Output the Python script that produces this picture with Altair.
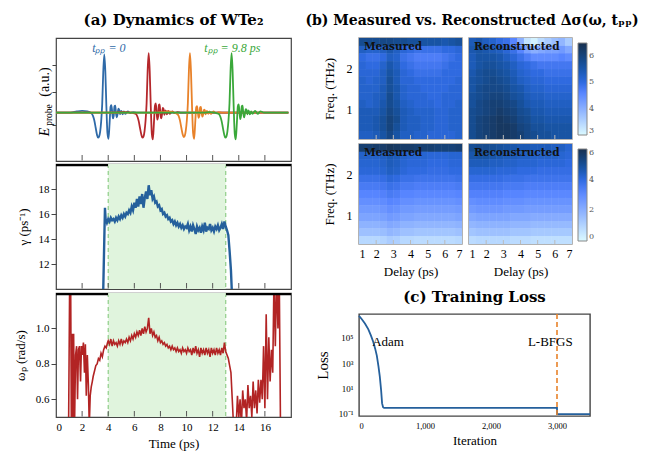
import altair as alt
import pandas as pd

SERIF = "Liberation Serif"
BOLD = "DejaVu Serif"

# ---------------- panel (a) data ----------------
pulse_names = ["blue", "red", "orange", "green"]
pulse_colors = ["#2f6aa8", "#b5272b", "#e8822a", "#3aa83a"]
peak_times = [3.70, 7.10, 10.26, 13.45]
t_rel = [-2.6, -2.1, -1.7, -1.3, -1.0, -0.86, -0.76, -0.66, -0.56, -0.48, -0.4, -0.32,
         -0.24, -0.16, -0.08, 0.0, 0.08, 0.16, 0.24, 0.32, 0.4, 0.48, 0.54, 0.6, 0.66,
         0.72, 0.78, 0.84, 0.9, 0.96, 1.02, 1.08, 1.14, 1.2, 1.3, 1.4, 1.5, 1.6, 1.8,
         2.0, 2.2, 2.5]
E_blue = [0.0, 0.02, 0.03, 0.02, -0.01, -0.06, -0.14, -0.26, -0.38, -0.43, -0.41, -0.33,
          -0.15, 0.15, 0.7, 1.0, 0.7, 0.1, -0.35, -0.45, -0.2, 0.1, 0.13, 0.02, -0.1,
          -0.06, 0.11, 0.12, -0.02, -0.08, -0.02, 0.07, 0.05, -0.03, 0.03, -0.03, 0.02,
          -0.02, 0.02, -0.01, 0.01, 0.0]
E_red = [0.0, 0.01, 0.01, 0.0, -0.02, -0.07, -0.15, -0.27, -0.38, -0.43, -0.41, -0.32,
         -0.14, 0.16, 0.72, 1.02, 0.7, 0.1, -0.36, -0.46, -0.18, 0.12, 0.16, 0.03, -0.12,
         -0.07, 0.13, 0.14, -0.03, -0.1, -0.03, 0.08, 0.06, -0.04, 0.04, -0.03, 0.03,
         -0.02, 0.02, -0.01, 0.01, 0.0]
E_orange = [0.0, 0.01, 0.02, 0.01, -0.02, -0.06, -0.14, -0.26, -0.37, -0.42, -0.40, -0.31,
            -0.14, 0.16, 0.72, 1.02, 0.7, 0.1, -0.35, -0.45, -0.19, 0.09, 0.11, 0.02, -0.09,
            -0.05, 0.09, 0.1, -0.02, -0.07, -0.02, 0.05, 0.04, -0.03, 0.03, -0.02, 0.02,
            -0.02, 0.02, -0.01, 0.01, 0.0]
E_green = [0.0, 0.0, 0.01, 0.0, -0.02, -0.07, -0.15, -0.27, -0.38, -0.43, -0.41, -0.32,
           -0.14, 0.16, 0.72, 1.02, 0.7, 0.1, -0.36, -0.46, -0.19, 0.11, 0.14, 0.02, -0.11,
           -0.06, 0.11, 0.12, -0.02, -0.08, -0.02, 0.06, 0.05, -0.03, 0.04, -0.03, 0.02,
           -0.02, 0.03, -0.02, 0.02, 0.0]
pulse_E = [E_blue, E_red, E_orange, E_green]
t_start, t_end = 0.0, 17.8

ann_t = [4.05, 13.5]
ann_E = [1.11, 1.11]
ann_text = ["tₚₚ = 0", "tₚₚ = 9.8 ps"]
ann_color = ["#2f6aa8", "#3aa83a"]

time_ticks = [2, 4, 6, 8, 10, 12, 14, 16]
time_labels = [0, 2, 4, 6, 8, 10, 12, 14, 16]
shade_start, shade_end = 4.0, 13.0

gamma_t = [3.60, 3.70, 3.75, 3.80, 3.90,
           4.0, 4.1, 4.2, 4.3, 4.4, 4.5, 4.6, 4.7, 4.8, 4.9, 5.0, 5.1, 5.2, 5.3, 5.4, 5.5,
           5.6, 5.7, 5.8, 5.9, 6.0, 6.1, 6.2, 6.3, 6.4, 6.5, 6.6, 6.7, 6.8, 6.9, 7.0, 7.1,
           7.2, 7.3, 7.4, 7.5, 7.6, 7.7, 7.8, 7.9, 8.0, 8.1, 8.2, 8.3, 8.4, 8.5, 8.6, 8.7,
           8.8, 8.9, 9.0, 9.1, 9.2, 9.3, 9.4, 9.5, 9.6, 9.7, 9.8, 9.9, 10.0, 10.1, 10.2,
           10.3, 10.4, 10.5, 10.6, 10.7, 10.8, 10.9, 11.0, 11.1, 11.2, 11.3, 11.4, 11.5,
           11.6, 11.7, 11.8, 11.9, 12.0, 12.1, 12.2, 12.3, 12.4, 12.5, 12.6, 12.7, 12.8,
           12.9, 13.0, 13.1, 13.2, 13.3, 13.4, 13.5]
gamma_v = [9.0, 14.0, 16.5, 15.6, 15.3,
           15.6, 15.4, 15.7, 15.5, 15.6, 15.4, 15.7, 15.5, 15.8, 15.6, 15.9, 15.7, 16.0,
           15.8, 16.1, 16.0, 16.3, 16.1, 16.6, 16.3, 16.9, 16.5, 17.2, 16.6, 17.4, 16.8,
           17.6, 16.5, 17.3, 17.8, 17.2, 18.3, 17.5, 17.9, 17.2, 17.4, 16.9, 17.0, 16.6,
           16.7, 16.3, 16.4, 16.0, 16.1, 15.8, 15.9, 15.6, 15.7, 15.4, 15.5, 15.2, 15.4,
           15.1, 15.3, 15.0, 15.2, 14.9, 15.1, 14.8, 15.0, 14.9, 15.2, 14.7, 15.0, 14.6,
           15.1, 14.8, 14.4, 15.0, 14.7, 14.9, 14.5, 15.0, 14.7, 15.3, 14.6, 14.9, 14.8,
           15.2, 14.7, 14.9, 14.6, 15.0, 14.8, 15.1, 14.7, 14.9, 15.2, 14.8, 15.4, 15.0,
           14.7, 14.3, 13.0, 11.5, 9.0]

omega_t = [0.95, 1.05, 1.12, 1.18, 1.25, 1.3, 1.35, 1.42, 1.5, 1.58, 1.65, 1.72, 1.8,
           1.88, 1.95, 2.02, 2.1, 2.18, 2.25, 2.32, 2.4, 2.48, 2.55, 2.62, 2.7, 2.78, 2.85,
           2.95, 3.05, 3.15, 3.25, 3.35, 3.45, 3.55, 3.65, 3.75, 3.85, 3.95,
           4.0, 4.1, 4.2, 4.3, 4.4, 4.5, 4.6, 4.7, 4.8, 4.9, 5.0, 5.1, 5.2, 5.3, 5.4, 5.5,
           5.6, 5.7, 5.8, 5.9, 6.0, 6.1, 6.2, 6.3, 6.4, 6.5, 6.6, 6.7, 6.8, 6.9, 7.0, 7.1,
           7.2, 7.3, 7.4, 7.5, 7.6, 7.7, 7.8, 7.9, 8.0, 8.1, 8.2, 8.3, 8.4, 8.5, 8.6, 8.7,
           8.8, 8.9, 9.0, 9.1, 9.2, 9.3, 9.4, 9.5, 9.6, 9.7, 9.8, 9.9, 10.0, 10.1, 10.2,
           10.3, 10.4, 10.5, 10.6, 10.7, 10.8, 10.9, 11.0, 11.1, 11.2, 11.3, 11.4, 11.5,
           11.6, 11.7, 11.8, 11.9, 12.0, 12.1, 12.2, 12.3, 12.4, 12.5, 12.6, 12.7, 12.8,
           12.9, 13.0, 13.1, 13.2, 13.3, 13.4, 13.5, 13.6,
           13.8, 13.9, 14.0, 14.1, 14.2, 14.3, 14.4, 14.5, 14.6, 14.7, 14.8, 14.9, 15.0,
           15.1, 15.2, 15.3, 15.4, 15.5, 15.6, 15.7, 15.8, 15.9, 16.0, 16.1, 16.2, 16.3,
           16.4, 16.5, 16.6, 16.7, 16.8, 16.9, 17.0, 17.1, 17.2, 17.3]
omega_v = [0.3, 1.3, 1.3, 0.4, 0.97, 0.5, 0.97, 0.45, 0.85, 0.9, 0.6, 0.88, 0.9, 0.7,
           0.9, 0.85, 0.92, 0.75, 0.91, 0.62, 0.85, 0.68, 0.45, 0.62, 0.67, 0.70, 0.73,
           0.76, 0.79, 0.80, 0.83, 0.82, 0.86, 0.84, 0.88, 0.90, 0.89, 0.92,
           0.93, 0.91, 0.94, 0.90, 0.93, 0.91, 0.92, 0.90, 0.93, 0.91, 0.94, 0.91, 0.93,
           0.92, 0.94, 0.92, 0.95, 0.93, 0.96, 0.94, 0.97, 0.95, 0.98, 0.96, 0.99, 0.96,
           1.00, 0.97, 1.01, 0.98, 1.00, 1.06, 0.97, 1.00, 0.96, 0.98, 0.95, 0.96, 0.93,
           0.95, 0.92, 0.93, 0.91, 0.92, 0.90, 0.91, 0.89, 0.90, 0.88, 0.90, 0.88, 0.89,
           0.87, 0.89, 0.87, 0.88, 0.86, 0.89, 0.87, 0.88, 0.86, 0.89, 0.87, 0.88, 0.85,
           0.89, 0.86, 0.90, 0.86, 0.88, 0.84, 0.89, 0.86, 0.88, 0.85, 0.89, 0.86, 0.88,
           0.84, 0.89, 0.86, 0.88, 0.85, 0.89, 0.86, 0.88, 0.85, 0.89, 0.86, 0.92, 0.87,
           0.85, 0.83, 0.79, 0.75, 0.60, 0.45,
           0.45, 0.62, 0.5, 0.6, 0.45, 0.65, 0.55, 0.6, 0.48, 0.68, 0.55, 0.62, 0.5, 0.7,
           0.55, 0.65, 0.52, 0.71, 0.58, 0.71, 0.6, 0.9, 0.55, 1.08, 0.6, 0.95, 0.7, 0.88,
           0.75, 1.3, 0.9, 1.3, 1.0, 1.3, 0.4, 0.3]

# ---------------- panel (b) data ----------------
delay_edges = [1.0, 1.4, 1.8, 2.2, 2.6, 3.0, 3.4, 3.8, 4.2, 4.6, 5.0, 5.4, 5.8, 6.2, 6.6, 7.0]
freq_edges = [2.73, 2.54, 2.36, 2.17, 1.98, 1.80, 1.61, 1.42, 1.24, 1.05, 0.86, 0.68, 0.49, 0.30]

meas_top = [
    [5.8, 5.8, 5.8, 5.9, 5.9, 5.8, 5.8, 5.7, 5.7, 5.6, 5.6, 5.6, 5.5, 5.6, 5.7],
    [5.3, 5.2, 5.2, 5.3, 5.5, 5.3, 5.1, 5.0, 4.9, 4.9, 4.9, 4.9, 5.0, 5.0, 5.1],
    [5.0, 4.9, 4.9, 5.0, 5.3, 5.2, 4.9, 4.8, 4.7, 4.7, 4.7, 4.7, 4.8, 4.9, 5.0],
    [5.1, 5.0, 5.0, 5.2, 5.5, 5.3, 5.0, 4.9, 4.8, 4.8, 4.8, 4.8, 4.9, 5.0, 5.0],
    [5.1, 5.1, 5.1, 5.3, 5.6, 5.4, 5.1, 5.0, 4.9, 4.9, 4.9, 4.9, 5.0, 5.0, 5.0],
    [5.2, 5.1, 5.2, 5.3, 5.7, 5.4, 5.1, 5.1, 5.0, 5.0, 5.0, 5.0, 5.0, 5.0, 5.1],
    [5.2, 5.2, 5.2, 5.4, 5.7, 5.5, 5.2, 5.1, 5.1, 5.0, 5.0, 5.0, 5.0, 5.1, 5.1],
    [5.2, 5.2, 5.3, 5.4, 5.8, 5.5, 5.2, 5.1, 5.1, 5.1, 5.0, 5.0, 5.1, 5.1, 5.1],
    [5.3, 5.2, 5.3, 5.5, 5.8, 5.6, 5.3, 5.2, 5.1, 5.1, 5.1, 5.0, 5.1, 5.1, 5.2],
    [5.4, 5.4, 5.4, 5.6, 5.9, 5.7, 5.4, 5.3, 5.2, 5.2, 5.2, 5.1, 5.1, 5.2, 5.2],
    [5.4, 5.4, 5.5, 5.7, 6.0, 5.8, 5.4, 5.3, 5.3, 5.2, 5.2, 5.1, 5.1, 5.2, 5.2],
    [5.4, 5.4, 5.5, 5.7, 6.0, 5.7, 5.4, 5.3, 5.3, 5.2, 5.2, 5.1, 5.1, 5.2, 5.2],
    [5.3, 5.3, 5.4, 5.6, 5.9, 5.6, 5.3, 5.3, 5.2, 5.2, 5.1, 5.1, 5.1, 5.1, 5.2],
]
recon_top = [
    [5.4, 5.5, 5.3, 5.2, 5.0, 4.9, 4.6, 4.0, 3.3, 3.1, 3.4, 3.6, 3.8, 3.9, 3.6],
    [5.5, 5.6, 5.5, 5.4, 5.3, 5.1, 4.9, 4.6, 4.2, 4.0, 4.1, 4.2, 4.2, 4.3, 4.1],
    [5.4, 5.6, 5.6, 5.6, 5.5, 5.3, 5.1, 4.9, 4.7, 4.5, 4.5, 4.5, 4.5, 4.6, 4.5],
    [5.4, 5.6, 5.7, 5.7, 5.6, 5.5, 5.3, 5.1, 5.0, 4.9, 4.8, 4.8, 4.8, 4.8, 4.8],
    [5.5, 5.7, 5.8, 5.8, 5.7, 5.6, 5.4, 5.2, 5.1, 5.0, 5.0, 4.9, 4.9, 4.9, 4.9],
    [5.6, 5.7, 5.8, 5.9, 5.8, 5.7, 5.5, 5.3, 5.2, 5.1, 5.1, 5.0, 5.0, 5.0, 5.0],
    [5.6, 5.8, 5.9, 5.9, 5.9, 5.8, 5.6, 5.5, 5.3, 5.2, 5.2, 5.1, 5.1, 5.1, 5.1],
    [5.7, 5.8, 5.9, 6.0, 6.0, 5.9, 5.7, 5.6, 5.4, 5.3, 5.3, 5.2, 5.2, 5.2, 5.2],
    [5.7, 5.9, 6.0, 6.1, 6.1, 6.0, 5.9, 5.7, 5.5, 5.4, 5.4, 5.3, 5.3, 5.3, 5.3],
    [5.8, 5.9, 6.0, 6.1, 6.2, 6.1, 6.0, 5.8, 5.7, 5.5, 5.5, 5.4, 5.4, 5.4, 5.4],
    [5.8, 6.0, 6.1, 6.2, 6.3, 6.2, 6.1, 5.9, 5.8, 5.6, 5.6, 5.5, 5.5, 5.5, 5.5],
    [5.8, 6.0, 6.1, 6.2, 6.3, 6.3, 6.2, 6.0, 5.9, 5.7, 5.7, 5.6, 5.6, 5.6, 5.6],
    [5.8, 6.0, 6.1, 6.2, 6.3, 6.3, 6.2, 6.1, 5.9, 5.8, 5.7, 5.7, 5.6, 5.6, 5.6],
]
meas_bot = [
    [5.5, 5.5, 5.6, 5.6, 5.8, 5.7, 5.6, 5.6, 5.5, 5.5, 5.5, 5.4, 5.4, 5.4, 5.5],
    [4.3, 4.3, 4.3, 4.4, 4.6, 4.5, 4.3, 4.2, 4.2, 4.2, 4.1, 4.1, 4.1, 4.2, 4.2],
    [4.2, 4.2, 4.2, 4.3, 4.5, 4.4, 4.2, 4.1, 4.1, 4.1, 4.0, 4.0, 4.0, 4.1, 4.1],
    [4.1, 4.1, 4.1, 4.2, 4.4, 4.3, 4.1, 4.0, 4.0, 4.0, 3.9, 3.9, 3.9, 4.0, 4.0],
    [3.8, 3.8, 3.8, 3.9, 4.1, 4.0, 3.8, 3.8, 3.7, 3.7, 3.7, 3.7, 3.7, 3.7, 3.8],
    [3.5, 3.5, 3.5, 3.6, 3.8, 3.7, 3.5, 3.5, 3.4, 3.4, 3.4, 3.4, 3.4, 3.4, 3.5],
    [3.2, 3.2, 3.2, 3.3, 3.5, 3.4, 3.2, 3.2, 3.1, 3.1, 3.1, 3.1, 3.1, 3.1, 3.2],
    [2.9, 2.9, 2.9, 3.0, 3.2, 3.1, 2.9, 2.9, 2.8, 2.8, 2.8, 2.8, 2.8, 2.8, 2.9],
    [2.6, 2.6, 2.6, 2.7, 2.9, 2.8, 2.6, 2.6, 2.5, 2.5, 2.5, 2.5, 2.5, 2.5, 2.6],
    [2.3, 2.3, 2.3, 2.4, 2.6, 2.5, 2.3, 2.3, 2.2, 2.2, 2.2, 2.2, 2.2, 2.2, 2.3],
    [1.9, 1.9, 1.9, 2.0, 2.2, 2.1, 1.9, 1.9, 1.8, 1.8, 1.8, 1.8, 1.8, 1.8, 1.9],
    [1.5, 1.5, 1.5, 1.6, 1.8, 1.7, 1.5, 1.5, 1.4, 1.4, 1.4, 1.4, 1.4, 1.4, 1.5],
    [0.9, 0.9, 0.9, 1.0, 1.2, 1.1, 0.9, 0.9, 0.8, 0.8, 0.8, 0.8, 0.8, 0.8, 0.9],
]
recon_bot = [
    [5.0, 5.1, 5.1, 5.0, 4.9, 4.8, 4.7, 4.6, 4.6, 4.5, 4.5, 4.5, 4.4, 4.4, 4.2],
    [4.7, 4.8, 4.8, 4.7, 4.6, 4.5, 4.5, 4.4, 4.4, 4.3, 4.3, 4.3, 4.3, 4.2, 4.1],
    [4.5, 4.5, 4.5, 4.4, 4.4, 4.3, 4.3, 4.2, 4.2, 4.2, 4.1, 4.1, 4.1, 4.1, 4.0],
    [4.2, 4.2, 4.2, 4.2, 4.1, 4.1, 4.1, 4.0, 4.0, 4.0, 3.9, 3.9, 3.9, 3.9, 3.9],
    [3.9, 3.9, 3.9, 3.9, 3.9, 3.8, 3.8, 3.8, 3.7, 3.7, 3.7, 3.7, 3.7, 3.7, 3.7],
    [3.6, 3.6, 3.6, 3.6, 3.6, 3.5, 3.5, 3.5, 3.4, 3.4, 3.4, 3.4, 3.4, 3.4, 3.4],
    [3.3, 3.3, 3.3, 3.3, 3.3, 3.2, 3.2, 3.2, 3.1, 3.1, 3.1, 3.1, 3.1, 3.1, 3.1],
    [2.9, 3.0, 3.0, 3.0, 3.0, 2.9, 2.9, 2.9, 2.8, 2.8, 2.8, 2.8, 2.8, 2.8, 2.8],
    [2.6, 2.7, 2.7, 2.7, 2.7, 2.6, 2.6, 2.6, 2.5, 2.5, 2.5, 2.5, 2.5, 2.5, 2.5],
    [2.2, 2.3, 2.3, 2.3, 2.3, 2.3, 2.2, 2.2, 2.2, 2.1, 2.1, 2.1, 2.1, 2.1, 2.1],
    [1.8, 1.9, 1.9, 1.9, 1.9, 1.9, 1.8, 1.8, 1.8, 1.7, 1.7, 1.7, 1.7, 1.7, 1.7],
    [1.4, 1.5, 1.5, 1.5, 1.5, 1.5, 1.4, 1.4, 1.4, 1.3, 1.3, 1.3, 1.3, 1.3, 1.3],
    [0.8, 0.9, 0.9, 0.9, 0.9, 0.9, 0.8, 0.8, 0.8, 0.7, 0.7, 0.7, 0.7, 0.7, 0.7],
]
delay_ticks = [2, 3, 4, 5, 6]

# ---------------- panel (c) data ----------------
loss_iter = [0, 40, 90, 140, 180, 215, 245, 270, 295, 315, 335, 350, 365, 380, 3000, 3002, 3500]
loss_val = [5.6e6, 3.16e6, 1.41e6, 5.0e5, 1.58e5, 5.0e4, 1.41e4, 3980, 562, 89, 7.1, 0.63,
            0.316, 0.275, 0.275, 0.089, 0.089]
lbfgs_at = 3000
loss_ann_x = [200, 2898]
loss_ann_y = [4.5e4, 4.5e4]
loss_ann_text = ["Adam", "L-BFGS"]

# ---------------- styling ----------------
W_A = 235
H_TOP, H_MID, H_BOT = 123, 125, 124
FRAME = alt.ViewBackground(stroke="#444", strokeWidth=1.2)
GREEN_FILL = "#e0f4dd"
GREEN_DASH = "#8fce88"

xs = alt.Scale(domain=[0, 18], nice=False, zero=False)
time_axis = alt.Axis(values=time_labels, title="Time (ps)", ticks=False, domain=False,
                     labelFontSize=11, titleFontSize=13, labelPadding=4, titlePadding=5)

# ---- top panel ----
layers = []
for name, col, tp, E in zip(pulse_names, pulse_colors, peak_times, pulse_E):
    tt = [t_start] + [tp + r for r in t_rel] + [t_end]
    ee = [0.0] + E + [0.0]
    df = pd.DataFrame({"t": tt, "E": ee, "k": list(range(len(tt)))})
    layers.append(
        alt.Chart(df).mark_line(color=col, strokeWidth=1.8, interpolate="monotone", clip=True).encode(
            x=alt.X("t:Q", scale=xs, axis=None),
            y=alt.Y("E:Q", scale=alt.Scale(domain=[-0.83, 1.28], nice=False, zero=False),
                    axis=alt.Axis(title=None, values=[-0.22, 0.36, 0.81], labels=False,
                                  tickSize=4, domain=False)),
            order="k:Q",
        )
    )
ann_df = pd.DataFrame({"t": ann_t, "E": ann_E, "label": ann_text, "c": ann_color})
layers.append(
    alt.Chart(ann_df).mark_text(font=SERIF, fontSize=12, fontStyle="italic").encode(
        x=alt.X("t:Q", scale=xs, axis=None), y="E:Q", text="label:N",
        color=alt.Color("c:N", scale=None)))
# rotated y-axis title "E_probe (a.u.)" built from pieces (big E, small subscript)
ytitle_parts = [("E", 14, "italic", -11, 94), ("probe", 9.5, "normal", -7, 77), ("(a.u.)", 14, "normal", -11, 44)]
for txt, fs, sty, dx, dy in ytitle_parts:
    layers.append(alt.Chart(pd.DataFrame({"l": [txt]})).mark_text(
        font=SERIF, fontSize=fs, fontStyle=sty, angle=270, align="center", baseline="middle",
        color="black").encode(text="l:N", x=alt.value(dx), y=alt.value(dy)))
tick_df = pd.DataFrame({"t": time_ticks})


def inward_ticks(H, axis):
    return alt.Chart(tick_df).mark_rule(color="#555", strokeWidth=1).encode(
        x=alt.X("t:Q", scale=xs, axis=axis), y=alt.value(H - 0.5), y2=alt.value(H - 6))


layers.append(inward_ticks(H_TOP, None))
top = alt.layer(*layers).properties(width=W_A, height=H_TOP, view=FRAME)

# shading helpers
shade_df = pd.DataFrame({"a": [shade_start], "b": [shade_end]})
bound_df = pd.DataFrame({"t": [shade_start, shade_end]})
seg_df = pd.DataFrame({"a": [0.0, shade_end], "b": [shade_start, 18.0]})


def shading(H, axis):
    rect = alt.Chart(shade_df).mark_rect(color=GREEN_FILL).encode(
        x=alt.X("a:Q", scale=xs, axis=axis), x2="b:Q", y=alt.value(0), y2=alt.value(H))
    dash = alt.Chart(bound_df).mark_rule(color=GREEN_DASH, strokeDash=[4, 3], strokeWidth=1.2).encode(
        x=alt.X("t:Q", scale=xs, axis=axis))
    return rect, dash


def divider(axis):
    # thick black top spine outside the shaded span, drawn inside the panel
    blk = alt.Chart(seg_df).mark_rect(color="black").encode(
        x=alt.X("a:Q", scale=xs, axis=axis), x2="b:Q", y=alt.value(0), y2=alt.value(2.2))
    grn = alt.Chart(shade_df).mark_rect(color=GREEN_FILL).encode(
        x=alt.X("a:Q", scale=xs, axis=axis), x2="b:Q", y=alt.value(0), y2=alt.value(2.2))
    return blk, grn


# ---- middle panel ----
g_df = pd.DataFrame({"t": gamma_t, "g": gamma_v})
r1, d1 = shading(H_MID, None)
b1, gr1 = divider(None)
gline = alt.Chart(g_df).mark_line(color="#25609c", strokeWidth=2.4, clip=True).encode(
    x=alt.X("t:Q", scale=xs, axis=None),
    y=alt.Y("g:Q", scale=alt.Scale(domain=[10, 20], nice=False, zero=False),
            axis=alt.Axis(values=[12, 14, 16, 18], title="γ (ps⁻¹)", tickSize=5, domain=False,
                          labelFontSize=11, titleFontSize=13, labelPadding=2, titlePadding=8)))
mid = alt.layer(r1, d1, inward_ticks(H_MID, None), gline, b1, gr1).properties(
    width=W_A, height=H_MID, view=FRAME)

# ---- bottom panel ----
w_df = pd.DataFrame({"t": omega_t, "w": omega_v})
r2, d2 = shading(H_BOT, time_axis)
b2, gr2 = divider(time_axis)
wline = alt.Chart(w_df).mark_line(color="#b22424", strokeWidth=1.6, clip=True).encode(
    x=alt.X("t:Q", scale=xs, axis=time_axis),
    y=alt.Y("w:Q", scale=alt.Scale(domain=[0.5, 1.2], nice=False, zero=False),
            axis=alt.Axis(values=[0.6, 0.8, 1.0], format=".1f", title="ωₚ (rad/s)", tickSize=5,
                          domain=False, labelFontSize=11, titleFontSize=13, labelPadding=2,
                          titlePadding=8)))
bot = alt.layer(r2, d2, inward_ticks(H_BOT, time_axis), wline, b2, gr2).properties(
    width=W_A, height=H_BOT, view=FRAME)

left = alt.vconcat(top, mid, bot, spacing=0,
                   title=alt.Title("(a) Dynamics of WTe₂", offset=9, anchor="middle",
                                   frame="group", fontSize=15, dx=W_A / 2))

# ---------------- panel (b) ----------------
HEAT_FRAME = alt.ViewBackground(stroke="#999", strokeWidth=1.5)
HW, HH1, HH2 = 103, 101, 100
dscale = alt.Scale(domain=[1, 7], nice=False, zero=False)
fscale = alt.Scale(domain=[0.3, 2.73], nice=False, zero=False)
cmap = ["#ffffff", "#2f6ae0", "#18304f"]
cscale_top = alt.Scale(domain=[3, 5, 6.5], range=cmap, clamp=True)
cscale_bot = alt.Scale(domain=[0, 4, 6], range=cmap, clamp=True)
dtick_df = pd.DataFrame({"d": delay_ticks})


def heat_df(M):
    rows = []
    for i, row in enumerate(M):
        for j, v in enumerate(row):
            rows.append({"d0": delay_edges[j], "d1": delay_edges[j + 1],
                         "f0": freq_edges[i + 1], "f1": freq_edges[i], "v": v})
    return pd.DataFrame(rows)


def heat(M, cscale, legend_vals, label, show_y, show_x, H):
    xaxis = (alt.Axis(values=[1, 2, 3, 4, 5, 6, 7], title="Delay (ps)", ticks=False, domain=False,
                      labelFontSize=12, titleFontSize=13, labelPadding=4, titlePadding=6)
             if show_x else None)
    yaxis = (alt.Axis(values=[1, 2], title="Freq. (THz)", ticks=False, domain=False,
                      labelFontSize=12, titleFontSize=13, labelPadding=7, titlePadding=10)
             if show_y else None)
    enc = dict(
        x=alt.X("d0:Q", scale=dscale, axis=xaxis), x2="d1:Q",
        y=alt.Y("f0:Q", scale=fscale, axis=yaxis), y2="f1:Q",
        color=alt.Color("v:Q", scale=cscale,
                        legend=alt.Legend(values=legend_vals, title=None, type="gradient")))
    base = alt.Chart(heat_df(M))
    rect = base.mark_rect().encode(**enc)
    rect2 = base.mark_rect().encode(**enc)   # second pass hides anti-alias seams
    ticks = alt.Chart(dtick_df).mark_rule(color="#bbb", strokeWidth=1).encode(
        x=alt.X("d:Q", scale=dscale, axis=xaxis), y=alt.value(H), y2=alt.value(H - 4))
    txt = alt.Chart(pd.DataFrame({"l": [label]})).mark_text(
        font=BOLD, fontWeight="bold", fontSize=10.5, align="left", baseline="middle", color="#111"
    ).encode(text="l:N", x=alt.value(5), y=alt.value(9))
    return alt.layer(rect, rect2, ticks, txt).properties(width=HW, height=H, view=HEAT_FRAME)


row1 = alt.hconcat(heat(meas_top, cscale_top, [3, 4, 5, 6], "Measured", True, False, HH1),
                   heat(recon_top, cscale_top, [3, 4, 5, 6], "Reconstructed", False, False, HH1),
                   spacing=5)
row2 = alt.hconcat(heat(meas_bot, cscale_bot, [0, 2, 4, 6], "Measured", True, True, HH2),
                   heat(recon_bot, cscale_bot, [0, 2, 4, 6], "Reconstructed", False, True, HH2),
                   spacing=5)
bblock = alt.vconcat(row1, row2, spacing=2,
                     title=alt.Title("(b) Measured vs. Reconstructed Δσ(ω, tₚₚ)", offset=9,
                                     anchor="middle", frame="group", fontSize=14, dx=113)
                     ).resolve_scale(color="independent")

# ---------------- panel (c) ----------------
LW, LH = 231, 102
iscale = alt.Scale(domain=[0, 3500], nice=False, zero=False)
lscale = alt.Scale(type="log", domain=[10 ** -1.2, 10 ** 6.9], nice=False)
it_axis = alt.Axis(values=[0, 1000, 2000, 3000], labelExpr="format(datum.value, ',')",
                   title="Iteration", ticks=False, domain=False, labelFontSize=8.5,
                   titleFontSize=13, labelPadding=5, titlePadding=5)
L_axis = alt.Axis(values=[0.1, 10, 1000, 100000], title="Loss", ticks=False, domain=False,
                  labelExpr="datum.value >= 99999 ? '10⁵' : datum.value >= 999 ? '10³' : datum.value >= 9 ? '10¹' : '10⁻¹'",
                  labelFontSize=9, titleFontSize=15, labelPadding=6, titlePadding=8)
loss_df = pd.DataFrame({"it": loss_iter, "L": loss_val})
lline = alt.Chart(loss_df).mark_line(color="#25609c", strokeWidth=1.8).encode(
    x=alt.X("it:Q", scale=iscale, axis=it_axis),
    y=alt.Y("L:Q", scale=lscale, axis=L_axis))
vline = alt.Chart(pd.DataFrame({"it": [lbfgs_at]})).mark_rule(
    color="#e8822a", strokeDash=[5, 3], strokeWidth=1.6).encode(
    x=alt.X("it:Q", scale=iscale, axis=it_axis))
lann1 = alt.Chart(pd.DataFrame({"it": [loss_ann_x[0]], "L": [loss_ann_y[0]], "t": [loss_ann_text[0]]})
                  ).mark_text(font=SERIF, fontSize=13, align="left").encode(
    x=alt.X("it:Q", scale=iscale, axis=it_axis), y=alt.Y("L:Q", scale=lscale, axis=L_axis), text="t:N")
lann2 = alt.Chart(pd.DataFrame({"it": [loss_ann_x[1]], "L": [loss_ann_y[1]], "t": [loss_ann_text[1]]})
                  ).mark_text(font=SERIF, fontSize=13, align="center").encode(
    x=alt.X("it:Q", scale=iscale, axis=it_axis), y=alt.Y("L:Q", scale=lscale, axis=L_axis), text="t:N")
losschart = alt.layer(lline, vline, lann1, lann2).properties(
    width=LW, height=LH, view=alt.ViewBackground(stroke="#444", strokeWidth=1.4),
    title=alt.Title("(c) Training Loss", offset=7, anchor="middle", frame="group", fontSize=15))

right = alt.vconcat(bblock, losschart, spacing=10).resolve_scale(color="independent")

chart = alt.concat(left, right, columns=2, align="none", spacing=13).resolve_scale(
    color="independent").properties(
    padding={"left": 5, "top": 5, "right": 0, "bottom": 0}
).configure_axis(
    labelFont=SERIF, titleFont=SERIF, labelColor="black", titleColor="black",
    titleFontWeight="normal", grid=False, tickColor="#444"
).configure_title(
    font=BOLD, fontWeight="bold", color="black"
).configure_legend(
    gradientLength=92, gradientThickness=9, labelFontSize=8, labelFont=BOLD, labelColor="#555",
    gradientStrokeColor="#888", gradientStrokeWidth=1, offset=0, padding=5, labelOffset=6
)

chart.save("out.html", embed_options={"renderer": "svg", "actions": False})
